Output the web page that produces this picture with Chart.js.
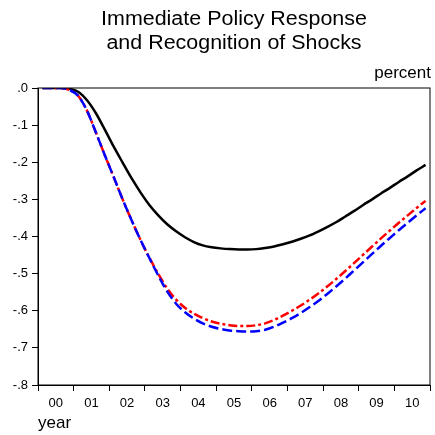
<!DOCTYPE html>
<html>
<head>
    <title>Immediate Policy Response and Recognition of Shocks</title>
    <script src="https://cdn.jsdelivr.net/npm/chart.js"></script>
    <style>
        body { margin: 0; background: #fff; }
        #wrap { position: relative; width: 435px; height: 435px; font-family: "Liberation Sans", Arial, sans-serif; }
        #title { position: absolute; left: 37px; width: 394px; top: 7px; text-align: center; font-size: 19.5px; line-height: 23.5px; color: #000; transform: scaleX(1.1); transform-origin: center; }
        #unit { position: absolute; right: 4px; top: 64px; font-size: 17px; line-height: 17px; color: #000; }
    </style>
</head>
<body>
    <div id="wrap">
        <div id="title">Immediate Policy Response<br>and Recognition of Shocks</div>
        <div id="unit">percent</div>
        <canvas id="myChart" width="435" height="435"></canvas>
    </div>
    <script>
        // year labels, each year has four quarterly points
        const years = ['00', '01', '02', '03', '04', '05', '06', '07', '08', '09', '10'];

        // quarterly responses, percent
        const baseline = [0, 0, 0, -0.002, -0.01, -0.033, -0.068, -0.112, -0.158, -0.201, -0.243,
            -0.281, -0.315, -0.343, -0.367, -0.386, -0.402, -0.415, -0.424, -0.429, -0.432, -0.434,
            -0.435, -0.435, -0.434, -0.431, -0.427, -0.421, -0.414, -0.406, -0.397, -0.386, -0.374,
            -0.361, -0.346, -0.331, -0.315, -0.3, -0.284, -0.269, -0.253, -0.238, -0.222, -0.207];
        const redSeries = [0, 0, 0, -0.005, -0.021, -0.061, -0.12, -0.181, -0.24, -0.3, -0.356,
            -0.409, -0.457, -0.501, -0.54, -0.57, -0.592, -0.608, -0.62, -0.629, -0.635, -0.639,
            -0.641, -0.641, -0.639, -0.634, -0.625, -0.613, -0.6, -0.586, -0.57, -0.553, -0.534,
            -0.514, -0.493, -0.471, -0.449, -0.427, -0.405, -0.384, -0.363, -0.343, -0.323, -0.304];
        const blueSeries = [0, 0, 0, -0.005, -0.021, -0.061, -0.12, -0.181, -0.24, -0.3, -0.356,
            -0.409, -0.458, -0.505, -0.548, -0.581, -0.604, -0.621, -0.634, -0.643, -0.649, -0.653,
            -0.655, -0.656, -0.655, -0.651, -0.643, -0.632, -0.62, -0.606, -0.59, -0.573, -0.554,
            -0.534, -0.513, -0.491, -0.469, -0.447, -0.425, -0.404, -0.383, -0.363, -0.343, -0.324];

        const toPoints = arr => arr.map((v, i) => ({ x: i + 0.5, y: v }));

        // box around the plot area
        const frame = {
            id: 'frame',
            afterDraw(chart) {
                const a = chart.chartArea;
                const ctx = chart.ctx;
                ctx.save();
                ctx.strokeStyle = '#000';
                ctx.lineWidth = 1;
                ctx.strokeRect(a.left, a.top, a.right - a.left, a.bottom - a.top);
                ctx.restore();
            }
        };

        Chart.defaults.font.family = '"Liberation Sans", Arial, sans-serif';
        Chart.defaults.color = '#000';

        const ctx = document.getElementById('myChart').getContext('2d');
        new Chart(ctx, {
            type: 'line',
            data: {
                datasets: [
                    {
                        data: toPoints(blueSeries),
                        borderColor: '#0000ff',
                        borderWidth: 2.5,
                        borderDash: [10, 4],
                        pointRadius: 0,
                        cubicInterpolationMode: 'monotone'
                    },
                    {
                        data: toPoints(redSeries),
                        borderColor: '#ff0000',
                        borderWidth: 2.5,
                        borderDash: [9, 3, 3, 3],
                        pointRadius: 0,
                        cubicInterpolationMode: 'monotone'
                    },
                    {
                        data: toPoints(baseline),
                        borderColor: '#000',
                        borderWidth: 2.5,
                        pointRadius: 0,
                        cubicInterpolationMode: 'monotone'
                    }
                ]
            },
            options: {
                responsive: false,
                animation: false,
                layout: { padding: { top: 88, right: 4, left: 0, bottom: 0 } },
                plugins: {
                    legend: { display: false },
                    tooltip: { enabled: false }
                },
                scales: {
                    x: {
                        type: 'linear',
                        min: 0,
                        max: 44,
                        afterFit: s => { s.height = 50; },
                        border: { color: '#000', width: 1 },
                        grid: {
                            drawOnChartArea: false,
                            tickLength: 6,
                            color: c => c.tick && c.tick.value % 4 === 0 ? '#000' : 'rgba(0,0,0,0)',
                            tickColor: c => c.tick && c.tick.value % 4 === 0 ? '#000' : 'rgba(0,0,0,0)'
                        },
                        ticks: {
                            stepSize: 2,
                            autoSkip: false,
                            maxRotation: 0,
                            padding: 5,
                            font: { size: 13 },
                            callback: v => v % 4 === 2 ? years[(v - 2) / 4] : ''
                        },
                        title: {
                            display: true,
                            text: 'year',
                            align: 'start',
                            font: { size: 17 },
                            padding: { top: 0, bottom: 1 }
                        }
                    },
                    y: {
                        min: -0.8,
                        max: 0,
                        afterFit: s => { s.width = 38; },
                        border: { color: '#000', width: 1 },
                        grid: {
                            drawOnChartArea: false,
                            tickLength: 6,
                            color: '#000'
                        },
                        ticks: {
                            stepSize: 0.1,
                            padding: 4,
                            font: { size: 13 },
                            callback: v => {
                                const n = Math.round(-v * 10);
                                return n === 0 ? '.0' : '-.' + n;
                            }
                        }
                    }
                }
            },
            plugins: [frame]
        });
    </script>
</body>
</html>
